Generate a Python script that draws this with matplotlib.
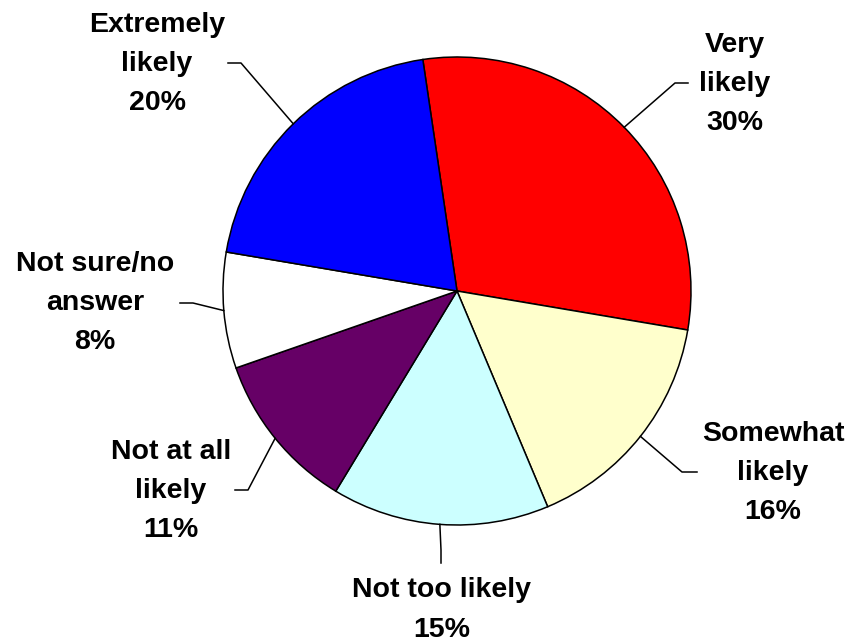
import numpy as np
import matplotlib
matplotlib.use('Agg')
import matplotlib.pyplot as plt

plt.rcParams['font.family'] = ['Liberation Sans', 'DejaVu Sans']

# data
labels = ['Very\nlikely', 'Somewhat\nlikely', 'Not too likely', 'Not at all\nlikely',
          'Not sure/no\nanswer', 'Extremely\nlikely']
values = [30, 16, 15, 11, 8, 20]
colors = ['#FF0000', '#FFFFCC', '#CCFFFF', '#660066', '#FFFFFF', '#0000FF']

# label layout (pixel coords, y from top)
text_pos = [(735, 84), (773, 473), (442, 610), (171, 491), (95, 303), (157, 64)]
elbows = [(675, 83), (682, 472), (441, 550), (248, 490), (193, 303), (241, 63)]
ends = [(688, 83), (697, 472), (441, 563), (235, 490), (180, 303), (228, 63)]

W, H = 848, 642
cx, cy, r = 457, H - 291, 234

fig = plt.figure(figsize=(W / 100, H / 100), dpi=100)
ax = fig.add_axes([0, 0, 1, 1])

wedges, _ = ax.pie(values, colors=colors, startangle=98.4, counterclock=False,
                   center=(cx, cy), radius=r,
                   wedgeprops=dict(edgecolor='black', linewidth=1.1))

for w, lab, val, tp, el, en in zip(wedges, labels, values, text_pos, elbows, ends):
    ang = np.deg2rad((w.theta1 + w.theta2) / 2)
    x0, y0 = cx + r * np.cos(ang), cy + r * np.sin(ang)
    ax.plot([x0, el[0], en[0]], [y0, H - el[1], H - en[1]], color='black', lw=1.1)
    ax.text(tp[0], H - tp[1], f'{lab}\n{val}%', ha='center', va='center',
            multialignment='center', fontsize=20.5, fontweight='bold', linespacing=1.66)

ax.set_xlim(0, W)
ax.set_ylim(0, H)
ax.set_aspect('equal')
ax.axis('off')

fig.savefig('out.png', dpi=100)
